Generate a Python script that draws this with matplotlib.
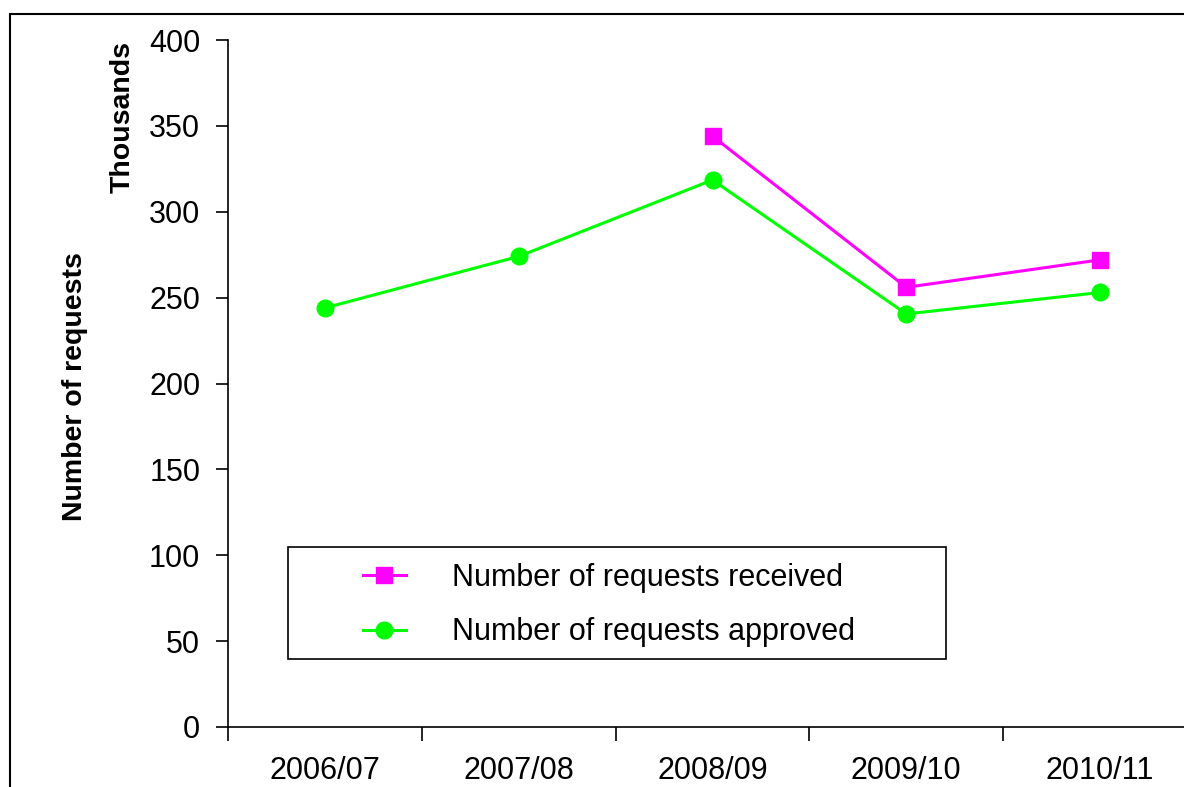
import matplotlib.pyplot as plt
import numpy as np
from matplotlib.patches import Rectangle

years = ['2006/07', '2007/08', '2008/09', '2009/10', '2010/11']
received = [np.nan, np.nan, 344, 256, 272]
approved = [244, 274, 318.5, 240.5, 253]

plt.rcParams['font.family'] = ['Liberation Sans', 'DejaVu Sans']

W, H = 1184, 787
fig = plt.figure(figsize=(W / 100, H / 100), dpi=100)

# outer chart frame, cut off on the right and bottom like the original
fig.patches.append(Rectangle((10 / W, -0.1), 1.2, 1 - 14 / H + 0.1, transform=fig.transFigure,
                             fill=False, edgecolor='black', linewidth=1.5))

ax = fig.add_axes([228 / W, 1 - 727 / H, 969 / W, 687 / H])
x = np.arange(len(years)) + 0.5
ax.plot(x, received, color='#FF00FF', marker='s', markersize=11, linewidth=2.2,
        label='Number of requests received')
ax.plot(x, approved, color='#00FF00', marker='o', markersize=12, linewidth=2.2,
        label='Number of requests approved')

ax.set_xlim(0, 5)
ax.set_ylim(0, 400)
ax.set_yticks(np.arange(0, 401, 50))
ax.set_xticks(np.arange(0, 6))
ax.set_xticklabels([])
ax.set_xticks(x, minor=True)
ax.set_xticklabels(years, minor=True, fontsize=22)
ax.tick_params(axis='x', which='minor', length=0, pad=21)
ax.tick_params(axis='x', which='major', direction='out', length=10, width=1.2)
ax.tick_params(axis='y', direction='out', length=9, width=1.2, labelsize=22, pad=11)
for s in ['top', 'right']:
    ax.spines[s].set_visible(False)
for s in ['left', 'bottom']:
    ax.spines[s].set_linewidth(1.2)

fig.text(75 / W, 1 - 387 / H, 'Number of requests', rotation=90, fontsize=20.5,
         fontweight='bold', ha='center', va='center')
fig.text(123 / W, 1 - 117 / H, 'Thousands', rotation=90, fontsize=20.5,
         fontweight='bold', ha='center', va='center')

# legend box
fig.patches.append(Rectangle((288 / W, 1 - 659 / H), 658 / W, 112 / H, transform=fig.transFigure,
                             fill=True, facecolor='white', edgecolor='black', linewidth=1.2, zorder=5))
leg = fig.legend(loc='center left', bbox_to_anchor=(363 / W, 1 - 605 / H), frameon=False,
                 fontsize=22, handlelength=1.4, handletextpad=1.5, labelspacing=0.8,
                 borderpad=0, borderaxespad=0)
leg.set_zorder(6)

fig.savefig('out.png', dpi=100)
